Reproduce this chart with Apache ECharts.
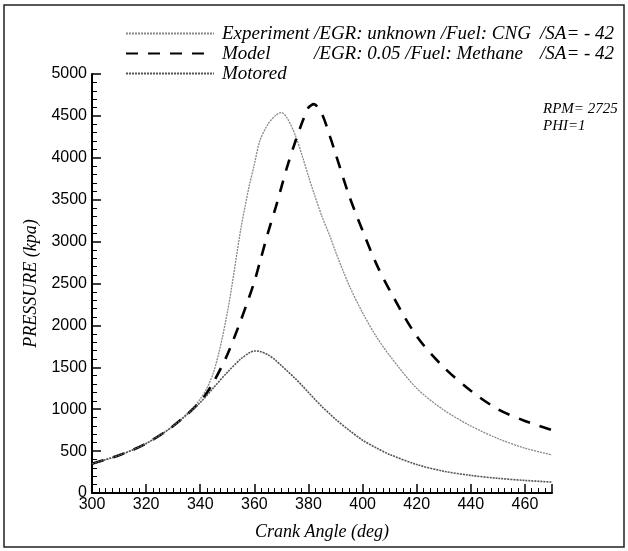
<!DOCTYPE html>
<html><head><meta charset="utf-8">
<script src="https://cdn.jsdelivr.net/npm/echarts@6/dist/echarts.min.js"></script>
<style>html,body{margin:0;padding:0;background:#fff}#c{width:628px;height:551px}</style>
</head><body><div id="c"></div>
<script>
const angles = [300,310,320,330,340,345,350,355,358,360,362,365,368,370,372,375,378,380,382,385,388,390,395,400,405,410,420,430,440,450,460,470];
const experiment = [350,450,590,800,1120,1450,2150,3150,3650,3920,4200,4400,4510,4540,4480,4280,3990,3780,3580,3300,3060,2880,2480,2150,1870,1640,1250,990,800,650,535,455];
const model = [350,450,590,800,1090,1330,1650,2060,2330,2520,2750,3100,3420,3650,3880,4180,4450,4600,4640,4520,4250,4050,3550,3130,2740,2420,1870,1500,1220,1000,860,750];
const motored = [350,450,590,800,1080,1260,1440,1600,1670,1695,1690,1650,1580,1520,1460,1370,1270,1200,1130,1030,940,880,750,630,540,460,340,260,210,175,150,130];
const seriesNames = ['Experiment','Model','Motored'];
const legendParts = [
  ['Experiment','/EGR: unknown /Fuel: CNG','/SA= - 42'],
  ['Model','/EGR: 0.05 /Fuel: Methane','/SA= - 42'],
  ['Motored','','']
];
const notes = ['RPM= 2725','PHI=1'];
const xName = 'Crank Angle (deg)';
const yName = 'PRESSURE (kpa)';

const pair = arr => angles.map((a,i)=>[a,arr[i]]);
const serif = 'Liberation Serif';
const lt = {fontFamily:serif,fontStyle:'italic',fontSize:19,color:'#000',lineHeight:18};
const chart = echarts.init(document.getElementById('c'));
chart.setOption({
  animation:false,
  backgroundColor:'#fff',
  grid:{left:92,right:76,top:74,bottom:58,containLabel:false},
  legend:{
    orient:'vertical', left:120, top:19, itemWidth:88, itemHeight:14, itemGap:1,
    data:seriesNames,
    itemStyle:{opacity:0},
    formatter:function(name){
      const p = legendParts[seriesNames.indexOf(name)];
      return '{s|}{a|'+p[0]+'}{b|'+p[1]+'}{c|'+p[2]+'}';
    },
    textStyle:Object.assign({}, lt, {
      rich:{
        s:{width:3,lineHeight:18},
        a:Object.assign({width:92}, lt),
        b:Object.assign({width:226}, lt),
        c:Object.assign({}, lt)
      }
    })
  },
  xAxis:{
    type:'value', min:300, max:470, interval:20,
    name:xName, nameLocation:'middle', nameGap:30,
    nameTextStyle:{fontFamily:serif,fontStyle:'italic',fontSize:18,color:'#000'},
    axisLine:{lineStyle:{color:'#000',width:2}},
    axisTick:{inside:true,length:9,lineStyle:{color:'#000',width:1.5}},
    minorTick:{show:true,splitNumber:8,length:5,lineStyle:{color:'#000',width:1}},
    axisLabel:{fontFamily:'Liberation Sans',fontSize:16,color:'#000',margin:4,
      formatter:v=> v>=470? '' : String(v)},
    splitLine:{show:false}
  },
  yAxis:{
    type:'value', min:0, max:5000, interval:500,
    name:yName, nameLocation:'middle', nameGap:46,
    nameTextStyle:{fontFamily:serif,fontStyle:'italic',fontSize:18,color:'#000'},
    axisLine:{show:true,lineStyle:{color:'#000',width:2}},
    axisTick:{show:true,inside:true,length:9,lineStyle:{color:'#000',width:1.5}},
    minorTick:{show:true,splitNumber:5,length:5,lineStyle:{color:'#000',width:1}},
    axisLabel:{fontFamily:'Liberation Sans',fontSize:16,color:'#000',margin:5,
      formatter:v=>String(v)},
    splitLine:{show:false}
  },
  series:[
    {name:'Experiment',type:'line',data:pair(experiment),smooth:0.3,showSymbol:false,symbol:'none',
      lineStyle:{color:'#888',width:1.3,type:[2,1]},itemStyle:{color:'#888'}},
    {name:'Model',type:'line',data:pair(model),smooth:0.3,showSymbol:false,symbol:'none',
      lineStyle:{color:'#000',width:2.6,type:[12,10]},itemStyle:{color:'#000'}},
    {name:'Motored',type:'line',data:pair(motored),smooth:0.3,showSymbol:false,symbol:'none',
      lineStyle:{color:'#555',width:1.6,type:[2,1]},itemStyle:{color:'#555'}}
  ],
  graphic:[
    {type:'rect',shape:{x:4,y:5,width:620,height:542},style:{fill:'none',stroke:'#222',lineWidth:1.5},silent:true},
    {type:'text',left:543,top:102,style:{text:notes[0],font:'italic 15px "Liberation Serif"',fill:'#000'}},
    {type:'text',left:543,top:119,style:{text:notes[1],font:'italic 15px "Liberation Serif"',fill:'#000'}}
  ]
});
</script></body></html>
